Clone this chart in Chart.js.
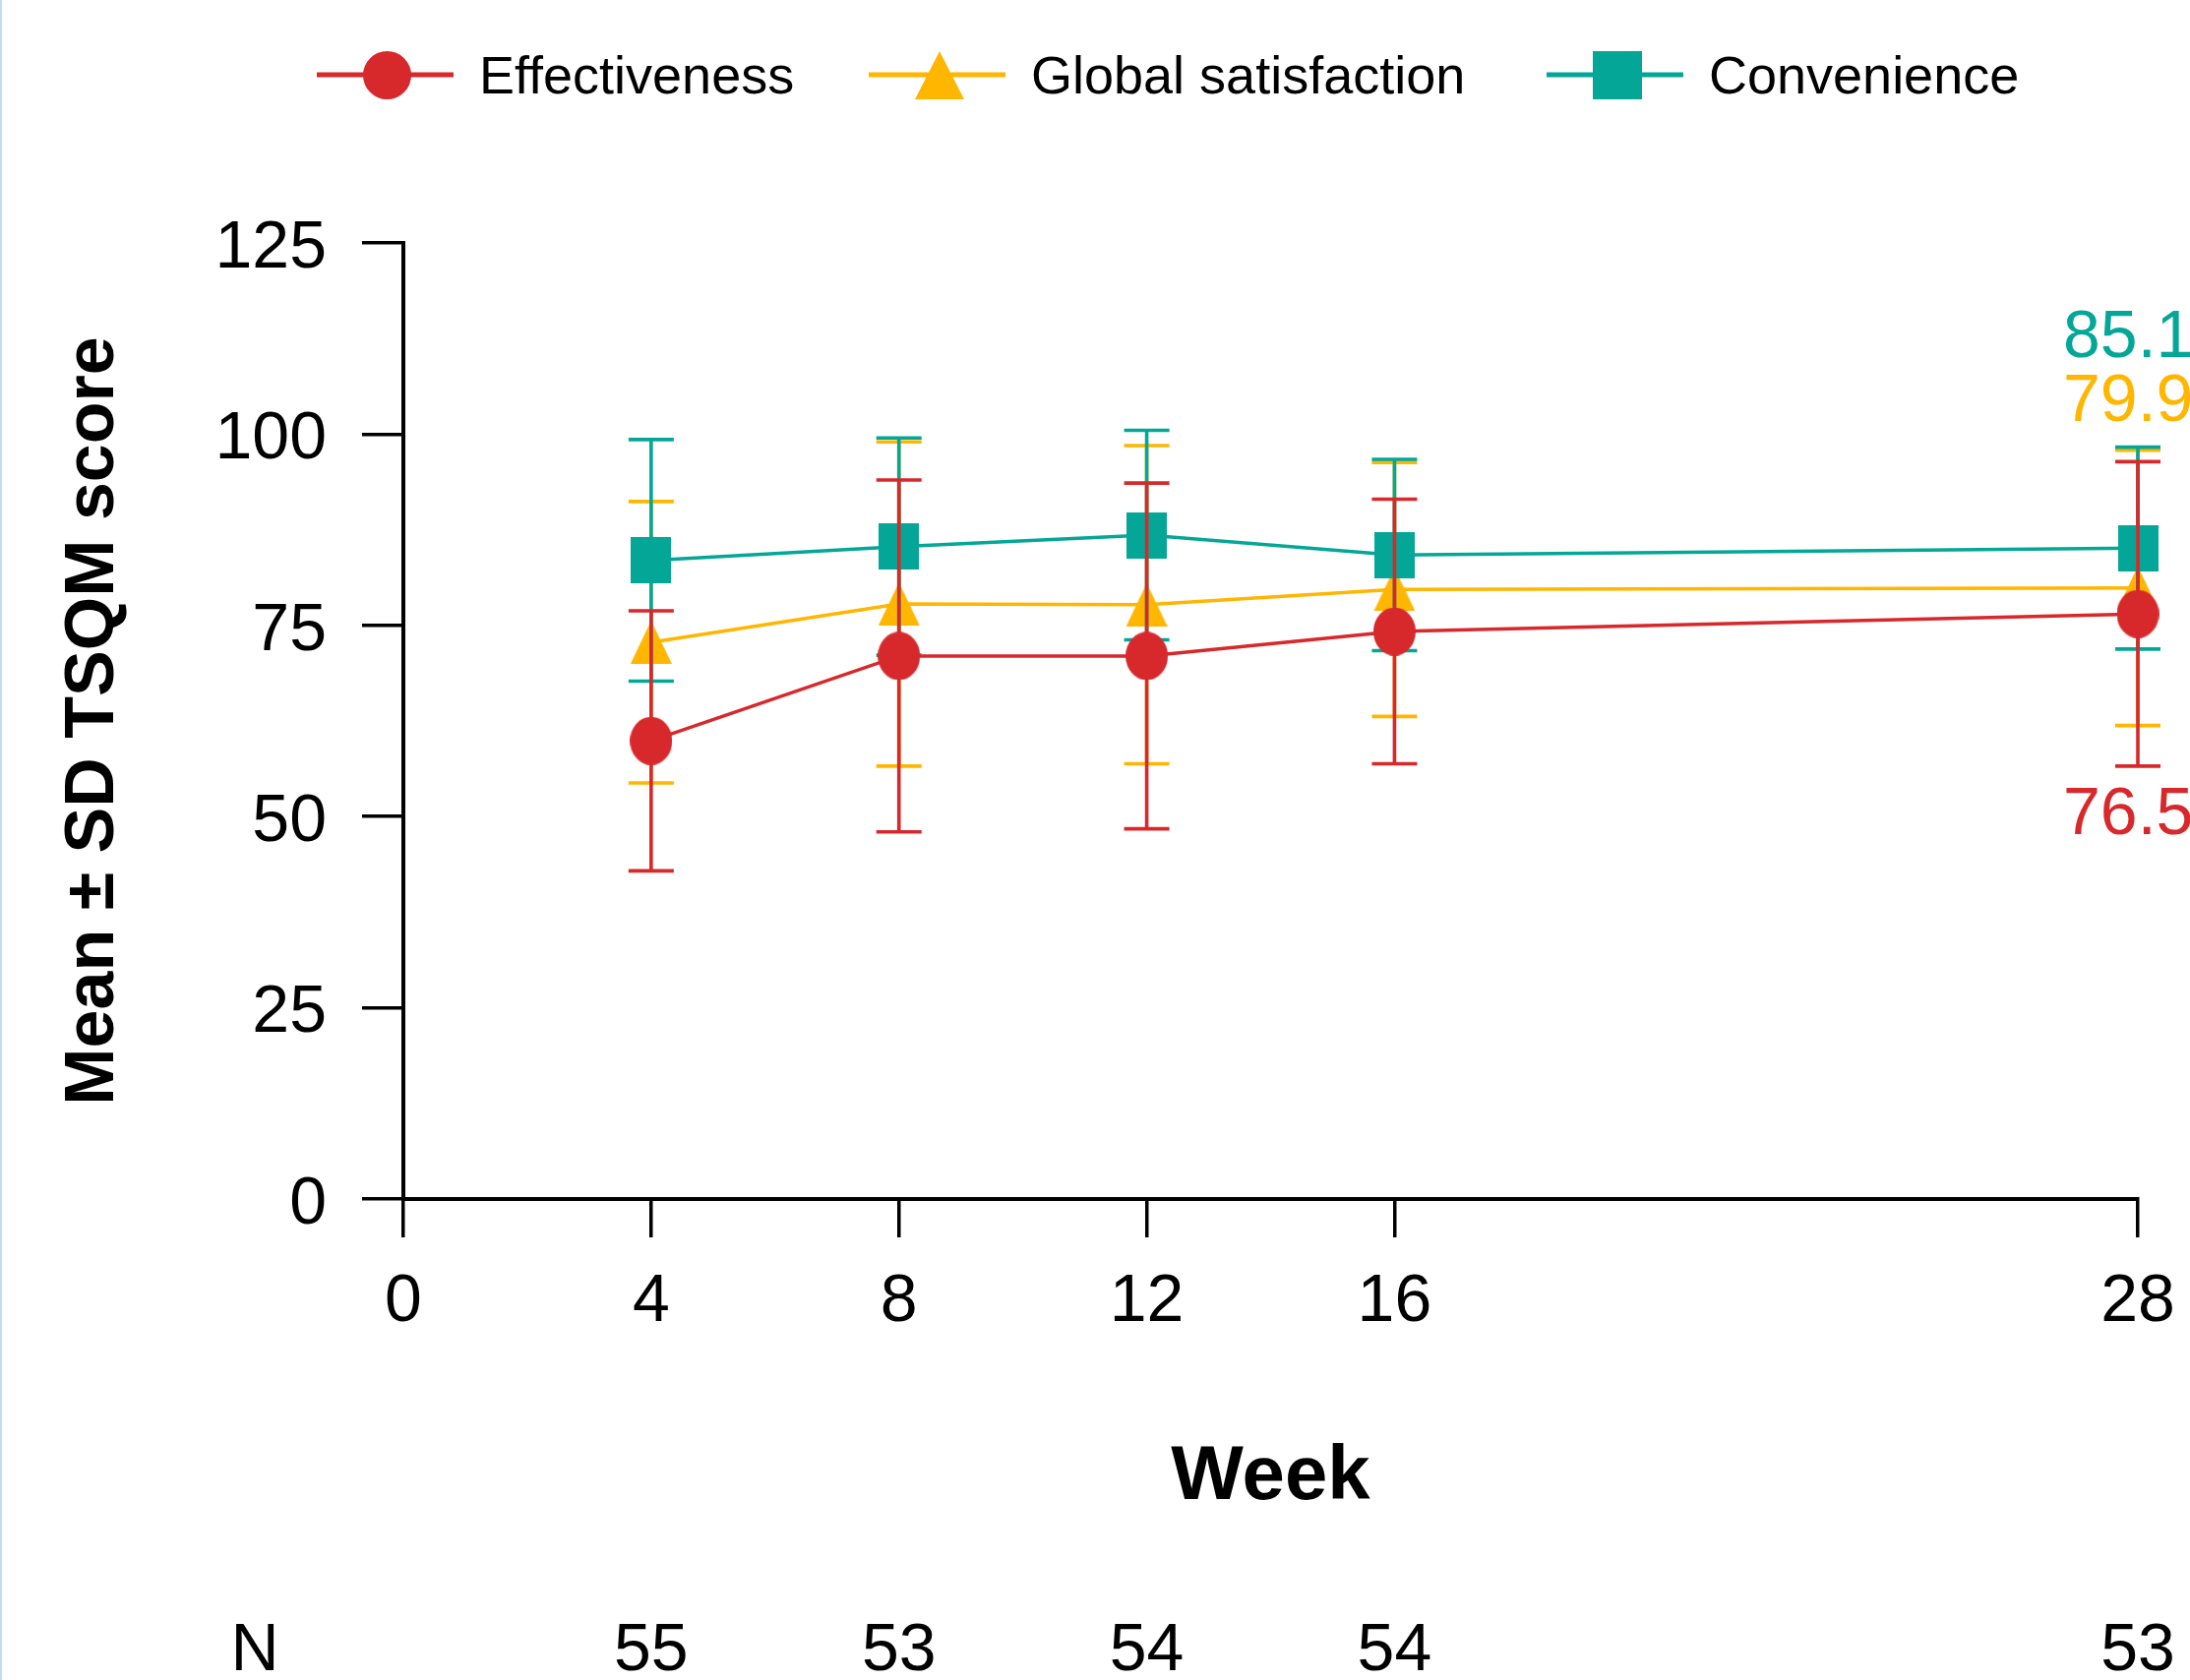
<!DOCTYPE html>
<html>
<head>
<meta charset="utf-8">
<script src="https://cdn.jsdelivr.net/npm/chart.js@4.4.1/dist/chart.umd.min.js"></script>
<style>
html, body { margin: 0; padding: 0; background: #ffffff; }
#wrap { width: 2226px; height: 1708px; position: relative; }
canvas { display: block; }
</style>
</head>
<body>
<div id="wrap"><canvas id="chart" width="2226" height="1708"></canvas></div>
<script>
// ---------------- data ----------------
const weeks = [4, 8, 12, 16, 28];
const xTickValues = [0, 4, 8, 12, 16, 28];
const yTickValues = [0, 25, 50, 75, 100, 125];
const seriesNames = ['Effectiveness', 'Global satisfaction', 'Convenience'];
const effectivenessMean = [59.9, 71.0, 71.0, 74.2, 76.5];
const effectivenessSD   = [17.0, 23.0, 22.6, 17.3, 19.9];
const globalMean        = [72.8, 77.8, 77.7, 79.7, 79.9];
const globalSD          = [18.4, 21.2, 20.8, 16.6, 18.0];
const convenienceMean   = [83.5, 85.3, 86.8, 84.2, 85.1];
const convenienceSD     = [15.8, 14.2, 13.7, 12.5, 13.2];
const nCounts           = [55, 53, 54, 54, 53];
const nRowLabel = 'N';
const xTitle = 'Week';
const yTitle = 'Mean \u00B1 SD TSQM score';

// ---------------- styles ----------------
const RED = '#D7282B';
const YELLOW = '#FFB600';
const TEAL = '#04A797';
const FONT = "'Liberation Sans', Arial, Helvetica, sans-serif";

function makeMarker(w, h, color, shape) {
  const c = document.createElement('canvas');
  c.width = w; c.height = h;
  const g = c.getContext('2d');
  g.fillStyle = color;
  g.beginPath();
  if (shape === 'ellipse') {
    g.ellipse(w / 2, h / 2, w / 2, h / 2, 0, 0, Math.PI * 2);
  } else if (shape === 'triangle') {
    g.moveTo(w / 2, 0); g.lineTo(w, h); g.lineTo(0, h); g.closePath();
  } else {
    g.rect(0, 0, w, h);
  }
  g.fill();
  return c;
}

const plotMarkers = {
  eff: makeMarker(43, 49, RED, 'ellipse'),
  glob: makeMarker(42, 44, YELLOW, 'triangle'),
  conv: makeMarker(41, 47, TEAL, 'rect')
};
const legendMarkers = [
  makeMarker(49, 49, RED, 'ellipse'),
  makeMarker(50, 49, YELLOW, 'triangle'),
  makeMarker(50, 49, TEAL, 'rect')
];

function toPoints(means) { return weeks.map((w, i) => ({ x: w, y: means[i] })); }

const datasets = [
  { label: seriesNames[0], data: toPoints(effectivenessMean), sd: effectivenessSD,
    borderColor: RED, backgroundColor: RED, pointStyle: plotMarkers.eff, order: 0 },
  { label: seriesNames[1], data: toPoints(globalMean), sd: globalSD,
    borderColor: YELLOW, backgroundColor: YELLOW, pointStyle: plotMarkers.glob, order: 2 },
  { label: seriesNames[2], data: toPoints(convenienceMean), sd: convenienceSD,
    borderColor: TEAL, backgroundColor: TEAL, pointStyle: plotMarkers.conv, order: 1 }
].map(d => Object.assign(d, {
  borderWidth: 3.5, tension: 0, pointRadius: 24, pointHoverRadius: 24,
  pointBorderWidth: 0, clip: false, fill: false
}));

// error bars drawn under each dataset's own line and markers
const errorBarPlugin = {
  id: 'errorBars',
  beforeDatasetDraw(chart, args) {
    const ds = chart.data.datasets[args.index];
    const xs = chart.scales.x, ys = chart.scales.y, ctx = chart.ctx;
    const half = 23;
    ctx.save();
    ctx.strokeStyle = ds.borderColor;
    ctx.lineWidth = 3.6;
    ctx.lineCap = 'butt';
    ds.data.forEach((p, i) => {
      const s = ds.sd[i];
      const px = xs.getPixelForValue(p.x);
      const top = ys.getPixelForValue(p.y + s);
      const bot = ys.getPixelForValue(p.y - s);
      ctx.beginPath();
      ctx.moveTo(px, top); ctx.lineTo(px, bot);
      ctx.moveTo(px - half, top); ctx.lineTo(px + half, top);
      ctx.moveTo(px - half, bot); ctx.lineTo(px + half, bot);
      ctx.stroke();
    });
    ctx.restore();
  }
};

// legend, end labels, N row
const decorPlugin = {
  id: 'decor',
  beforeDraw(chart) {
    const ctx = chart.ctx;
    ctx.save();
    ctx.fillStyle = '#ffffff';
    ctx.fillRect(0, 0, chart.width, chart.height);
    ctx.restore();
  },
  afterDraw(chart) {
    const ctx = chart.ctx;
    const xs = chart.scales.x, ys = chart.scales.y;
    ctx.save();

    // faint left edge line
    ctx.fillStyle = '#c4ddf2';
    ctx.fillRect(0, 0, 2, chart.height);

    // legend
    const lineStarts = [322, 883, 1572];
    const lineLen = 139;
    const legendY = 76;
    const colors = [RED, YELLOW, TEAL];
    ctx.font = '54px ' + FONT;
    ctx.textBaseline = 'middle';
    ctx.textAlign = 'left';
    seriesNames.forEach((name, i) => {
      const x0 = lineStarts[i];
      ctx.strokeStyle = colors[i];
      ctx.lineWidth = 5;
      ctx.beginPath();
      ctx.moveTo(x0, legendY); ctx.lineTo(x0 + lineLen, legendY);
      ctx.stroke();
      const m = legendMarkers[i];
      const cx = x0 + lineLen / 2 + 2;
      ctx.drawImage(m, Math.round(cx - m.width / 2), Math.round(legendY - m.height / 2));
      ctx.fillStyle = '#000000';
      ctx.fillText(name, x0 + 165, legendY + 4);
    });

    // end-of-line value labels at week 28
    const lastIdx = weeks.length - 1;
    const labelX = xs.getPixelForValue(weeks[lastIdx]) - 76;
    ctx.font = '68px ' + FONT;
    const endLabels = [
      { text: convenienceMean[lastIdx].toFixed(1), color: TEAL, at: 112.5 },
      { text: globalMean[lastIdx].toFixed(1), color: YELLOW, at: 104.1 },
      { text: effectivenessMean[lastIdx].toFixed(1), color: RED, at: 50.1 }
    ];
    endLabels.forEach(l => {
      ctx.fillStyle = l.color;
      ctx.fillText(l.text, labelX, ys.getPixelForValue(l.at));
    });

    // N row
    ctx.fillStyle = '#000000';
    ctx.textAlign = 'center';
    const nY = 1679;
    ctx.fillText(nRowLabel, 259, nY);
    weeks.forEach((w, i) => {
      ctx.fillText(String(nCounts[i]), xs.getPixelForValue(w), nY);
    });
    ctx.restore();
  }
};

new Chart(document.getElementById('chart'), {
  type: 'line',
  data: { datasets },
  options: {
    responsive: false,
    animation: false,
    events: [],
    devicePixelRatio: 1,
    layout: { padding: { top: 247, right: 53, left: 0, bottom: 0 } },
    plugins: {
      legend: { display: false },
      tooltip: { enabled: false },
      title: { display: false }
    },
    scales: {
      x: {
        type: 'linear',
        min: 0, max: 28,
        afterBuildTicks: s => { s.ticks = xTickValues.map(v => ({ value: v })); },
        afterFit: s => { s.height = 489; s.paddingRight = 0; s.paddingLeft = 0; },
        grid: { display: true, drawOnChartArea: false, drawTicks: true, tickLength: 39, color: '#000', lineWidth: 3.5 },
        border: { display: true, color: '#000', width: 4 },
        ticks: { color: '#000', font: { family: FONT, size: 68 }, padding: 25, autoSkip: false, maxRotation: 0,
                 callback: v => String(v) },
        title: { display: true, text: xTitle, color: '#000',
                 font: { family: FONT, size: 78, weight: 'bold' }, padding: { top: 0, bottom: 159 } }
      },
      y: {
        type: 'linear',
        min: 0, max: 125,
        afterBuildTicks: s => { s.ticks = yTickValues.map(v => ({ value: v })); },
        afterFit: s => { s.width = 410; s.paddingTop = 0; s.paddingBottom = 0; },
        grid: { display: true, drawOnChartArea: false, drawTicks: true, tickLength: 42, color: '#000', lineWidth: 3.5 },
        border: { display: true, color: '#000', width: 4 },
        ticks: { color: '#000', font: { family: FONT, size: 68 }, padding: 36, autoSkip: false, labelOffset: 6,
                 callback: v => String(v) },
        title: { display: true, text: yTitle, color: '#000',
                 font: { family: FONT, size: 70, weight: 'bold' }, padding: { top: 54, bottom: 0 } }
      }
    }
  },
  plugins: [errorBarPlugin, decorPlugin]
});
</script>
</body>
</html>
